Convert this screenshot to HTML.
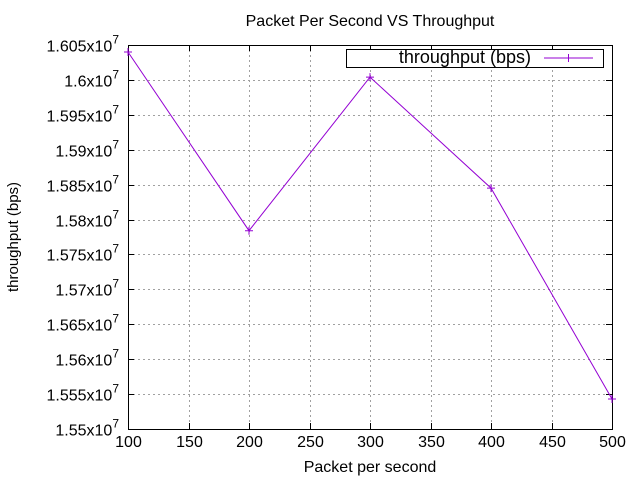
<!DOCTYPE html>
<html><head><meta charset="utf-8"><style>
body{margin:0;background:#fff}
text{font-family:"Liberation Sans",sans-serif;fill:#000}
</style></head><body>
<svg id="chart" width="640" height="480" xmlns="http://www.w3.org/2000/svg">
<text x="370" y="26" font-size="16" text-anchor="middle">Packet Per Second VS Throughput</text>
<g id="grid"></g><g id="axes"></g><g id="series"></g>
<text x="370" y="472" font-size="16" text-anchor="middle">Packet per second</text>
<text transform="translate(18,237) rotate(-90)" font-size="15" text-anchor="middle">throughput (bps)</text>
<g>
<rect x="346.5" y="49.5" width="257" height="18" fill="#fff" stroke="#000"/>
<text x="531" y="63" font-size="18" text-anchor="end">throughput (bps)</text>
<line x1="544" y1="58" x2="593" y2="58" stroke="#9400d3"/>
<line x1="568.5" y1="54" x2="568.5" y2="62" stroke="#9400d3"/>
</g>
</svg>
<script>
const categories=[100,200,300,400,500];
const throughput=[1.604e7,1.5784e7,1.6004e7,1.5845e7,1.5543e7];
const xTicks=[100,150,200,250,300,350,400,450,500];
const yTicks=[1.55e7,1.555e7,1.56e7,1.565e7,1.57e7,1.575e7,1.58e7,1.585e7,1.59e7,1.595e7,1.6e7,1.605e7];
const yLabels=["1.55","1.555","1.56","1.565","1.57","1.575","1.58","1.585","1.59","1.595","1.6","1.605"];
const L=128,R=612,T=45,B=429;
const xs=v=>L+(v-100)/400*(R-L);
const ys=v=>B-(v-1.55e7)/0.055e7*(B-T);
const NS="http://www.w3.org/2000/svg";
function mk(t,a,p){const e=document.createElementNS(NS,t);for(const k in a)e.setAttribute(k,a[k]);p.appendChild(e);return e;}
const grid=document.getElementById('grid'),axes=document.getElementById('axes'),ser=document.getElementById('series');
xTicks.forEach(v=>{const x=Math.round(xs(v))+0.5;
 if(v!==100&&v!==500){const g=mk('line',{x1:x,x2:x,y1:T,y2:B,stroke:'#a0a0a0','stroke-dasharray':'2,3'},grid);
 
 }
 mk('line',{x1:x,x2:x,y1:B,y2:B-6,stroke:'#000'},axes);mk('line',{x1:x,x2:x,y1:T,y2:T+6,stroke:'#000'},axes);
 const t=mk('text',{x:x,y:B+18,'font-size':16,'text-anchor':'middle'},axes);t.textContent=v;
 
 });
yTicks.forEach((v,i)=>{const y=Math.round(ys(v))+0.5;
 if(i>0&&i<yTicks.length-1){const g=mk('line',{x1:L,x2:R,y1:y,y2:y,stroke:'#a0a0a0','stroke-dasharray':'2,3'},grid);
 
 }
 mk('line',{x1:L,x2:L+6,y1:y,y2:y,stroke:'#000'},axes);mk('line',{x1:R,x2:R-6,y1:y,y2:y,stroke:'#000'},axes);
 const t=mk('text',{x:119,y:y+6,'font-size':16,'text-anchor':'end'},axes);
 t.innerHTML=yLabels[i]+'x10<tspan dy="-8" font-size="12">7</tspan>';
 
 });
const fr=mk('rect',{x:L+0.5,y:T+0.5,width:R-L,height:B-T,fill:'none',stroke:'#000'},axes);


const pts=categories.map((c,i)=>[xs(c),ys(throughput[i])]);
const pl=mk('polyline',{points:pts.map(p=>p.join(',')).join(' '),fill:'none',stroke:'#9400d3'},ser);


pts.forEach(p=>{const g=mk('path',{d:`M${p[0]-4},${p[1]}h8M${p[0]},${p[1]-4}v8`,stroke:'#9400d3'},ser);
 
 });
</script>
</body></html>
